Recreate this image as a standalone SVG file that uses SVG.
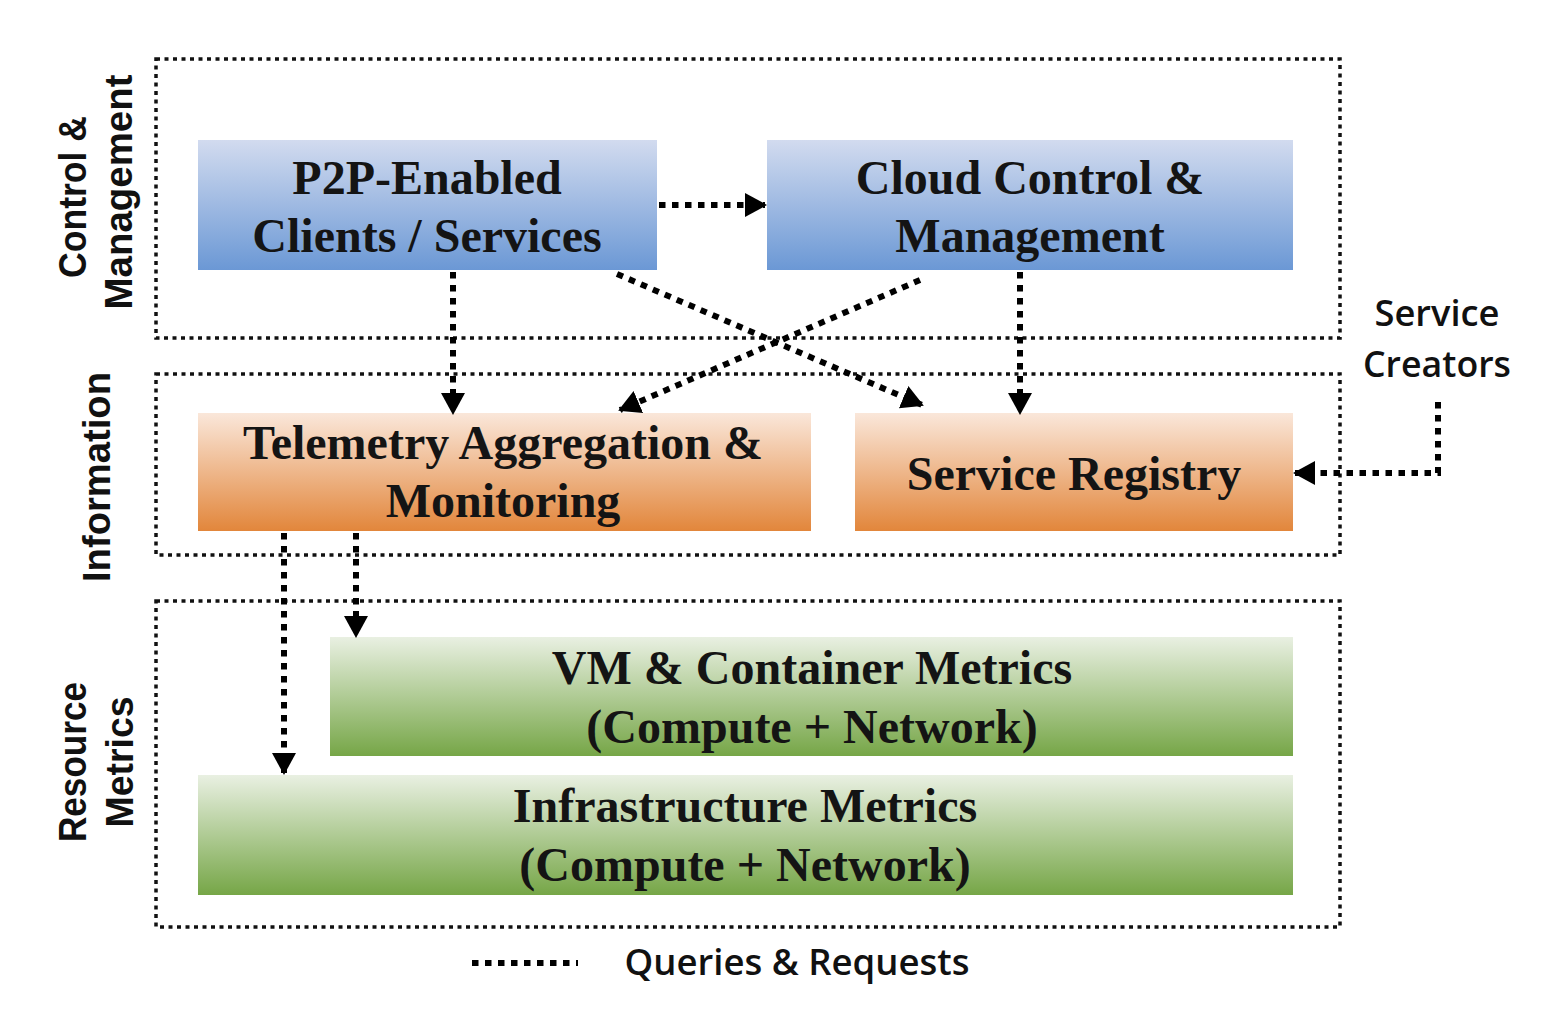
<svg xmlns="http://www.w3.org/2000/svg" width="1556" height="1026" viewBox="0 0 1556 1026">
<defs>
<linearGradient id="gBlue" x1="0" y1="0" x2="0" y2="1"><stop offset="0" stop-color="#d2dbef"/><stop offset="1" stop-color="#6b98d5"/></linearGradient>
<linearGradient id="gOrange" x1="0" y1="0" x2="0" y2="1"><stop offset="0" stop-color="#fae7da"/><stop offset="1" stop-color="#e2863b"/></linearGradient>
<linearGradient id="gGreen" x1="0" y1="0" x2="0" y2="1"><stop offset="0" stop-color="#e9f0e2"/><stop offset="1" stop-color="#76a647"/></linearGradient>
<marker id="arr" markerUnits="userSpaceOnUse" markerWidth="26" markerHeight="26" refX="20" refY="12" orient="auto"><path d="M0,0 L22,12 L0,24 Z" fill="#000"/></marker>
<style>
.frame{fill:none;stroke:#111;stroke-width:3.5;stroke-dasharray:4 4.5}
.conn{fill:none;stroke:#000;stroke-width:6;stroke-dasharray:6.5 6.5}
.nt{font-family:"Liberation Serif","Times New Roman",serif;font-weight:bold;font-size:48px;fill:#141414;text-anchor:middle}
.lab{font-family:"Liberation Sans",Arial,sans-serif;font-weight:bold;font-size:38px;fill:#111;text-anchor:middle}
.cal{font-family:"Open Sans","Liberation Sans",sans-serif;font-weight:600;font-size:36px;fill:#111;text-anchor:middle}
</style>
</defs>
<rect width="1556" height="1026" fill="#fff"/>
<g id="frames">
<rect class="frame" x="156" y="59" width="1184" height="279"/>
<rect class="frame" x="156" y="374" width="1184" height="181"/>
<rect class="frame" x="156" y="601" width="1184" height="326"/>
</g>
<g id="layer-labels">
<text class="lab" transform="translate(86,197) rotate(-90)" textLength="162" lengthAdjust="spacingAndGlyphs">Control &amp;</text>
<text class="lab" transform="translate(132,192) rotate(-90)" textLength="235" lengthAdjust="spacingAndGlyphs">Management</text>
<text class="lab" transform="translate(110,477) rotate(-90)" textLength="210" lengthAdjust="spacingAndGlyphs">Information</text>
<text class="lab" transform="translate(86,762) rotate(-90)" textLength="160" lengthAdjust="spacingAndGlyphs">Resource</text>
<text class="lab" transform="translate(133,762) rotate(-90)" textLength="131" lengthAdjust="spacingAndGlyphs">Metrics</text>
</g>
<g id="node-p2p"><rect x="198" y="140" width="459" height="130" fill="url(#gBlue)"/><text class="nt" x="427" y="194">P2P-Enabled</text><text class="nt" x="427" y="252">Clients / Services</text></g>
<g id="node-cloud"><rect x="767" y="140" width="526" height="130" fill="url(#gBlue)"/><text class="nt" x="1030" y="194">Cloud Control &amp;</text><text class="nt" x="1030" y="252">Management</text></g>
<g id="node-telemetry"><rect x="198" y="413" width="613" height="118" fill="url(#gOrange)"/><text class="nt" x="503" y="459">Telemetry Aggregation &amp;</text><text class="nt" x="503" y="517">Monitoring</text></g>
<g id="node-registry"><rect x="855" y="413" width="438" height="118" fill="url(#gOrange)"/><text class="nt" x="1074" y="490">Service Registry</text></g>
<g id="node-vm"><rect x="330" y="637" width="963" height="119" fill="url(#gGreen)"/><text class="nt" x="812" y="684">VM &amp; Container Metrics</text><text class="nt" x="812" y="743">(Compute + Network)</text></g>
<g id="node-infra"><rect x="198" y="775" width="1095" height="120" fill="url(#gGreen)"/><text class="nt" x="745" y="822">Infrastructure Metrics</text><text class="nt" x="745" y="881">(Compute + Network)</text></g>
<g id="node-creators"><text class="cal" x="1437" y="326" textLength="125" lengthAdjust="spacingAndGlyphs">Service</text><text class="cal" x="1437" y="377" textLength="148" lengthAdjust="spacingAndGlyphs">Creators</text></g>
<g id="connectors">
<path class="conn" d="M659,205 L765,205" marker-end="url(#arr)"/>
<path class="conn" d="M453,272 L453,413" marker-end="url(#arr)"/>
<path class="conn" d="M617,274 L922,405" marker-end="url(#arr)"/>
<path class="conn" d="M920,280 L620,410" marker-end="url(#arr)"/>
<path class="conn" d="M1020,272 L1020,413" marker-end="url(#arr)"/>
<path class="conn" d="M1438,402 L1438,473 L1295,473" marker-end="url(#arr)"/>
<path class="conn" d="M284,533 L284,773" marker-end="url(#arr)"/>
<path class="conn" d="M356,533 L356,636" marker-end="url(#arr)"/>
</g>
<g id="legend">
<path class="conn" d="M472,963 L578,963" stroke-width="5"/>
<text class="cal" x="797" y="975" textLength="345" lengthAdjust="spacingAndGlyphs">Queries &amp; Requests</text>
</g>
</svg>
